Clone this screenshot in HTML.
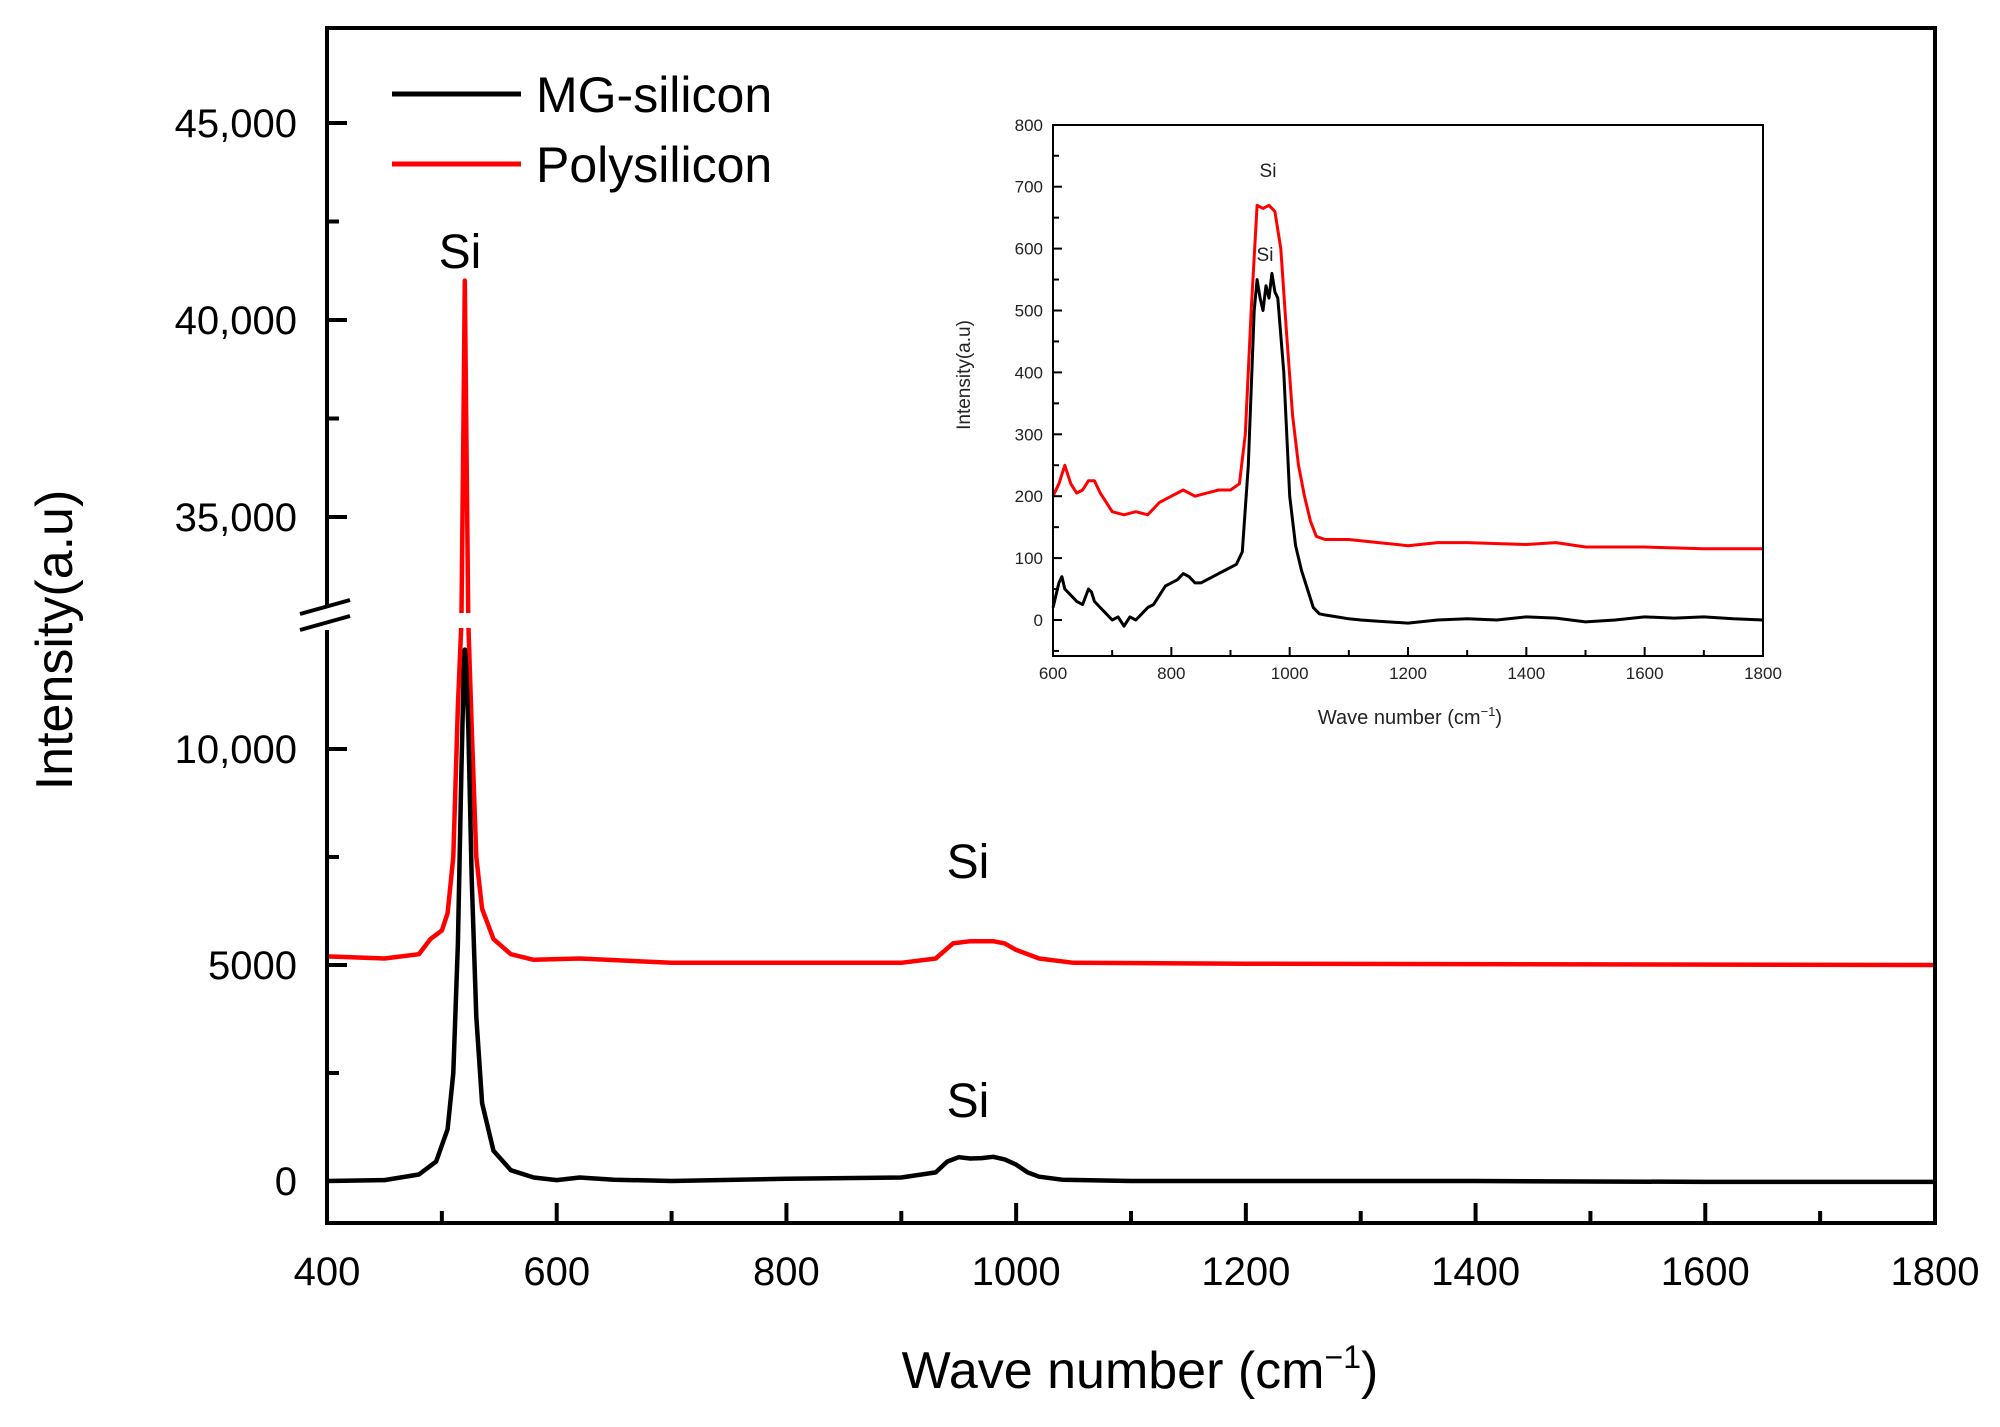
<!DOCTYPE html>
<html><head><meta charset="utf-8"><style>
body{margin:0;background:#fff}
svg text{font-family:"Liberation Sans",sans-serif}
</style></head><body>
<svg id="c" width="2000" height="1422" viewBox="0 0 2000 1422" xmlns="http://www.w3.org/2000/svg"></svg>
<script>
// main chart data
const mainXTicks=[400,600,800,1000,1200,1400,1600,1800];
const mainYTicksLow=[0,5000,10000];
const mainYLabelsLow=["0","5000","10,000"];
const mainYTicksHigh=[35000,40000,45000];
const mainYLabelsHigh=["35,000","40,000","45,000"];
const mgX=[400,450,480,495,505,510,514,517,519,520,521,523,526,530,535,545,560,580,600,620,650,700,800,900,930,940,950,960,970,980,990,1000,1010,1020,1040,1100,1200,1400,1600,1800];
const mgY=[0,20,150,450,1200,2500,5500,9500,11800,12300,12000,10500,7000,3800,1800,700,250,80,20,80,30,0,50,80,200,450,550,520,530,560,500,380,200,100,30,0,0,0,-20,-20];
const polyX=[400,450,480,490,500,505,510,514,517,519,520,521,523,526,530,535,545,560,580,620,700,900,930,945,960,980,990,1000,1020,1050,1200,1800];
const polyY=[5200,5150,5250,5600,5800,6200,7500,11000,20000,38000,41000,38000,20000,10500,7500,6300,5600,5250,5120,5150,5050,5050,5150,5500,5550,5550,5500,5350,5150,5050,5030,5000];
// inset data
const inXTicks=[600,800,1000,1200,1400,1600,1800];
const inYTicks=[0,100,200,300,400,500,600,700,800];
const inMgX=[600,610,615,620,630,640,650,660,665,670,680,690,700,710,720,730,740,750,760,770,780,790,800,810,820,830,840,850,860,870,880,890,900,910,920,930,940,945,950,955,960,965,970,975,980,990,1000,1010,1020,1030,1040,1050,1060,1080,1100,1120,1150,1200,1250,1300,1350,1400,1450,1500,1550,1600,1650,1700,1750,1800];
const inMgY=[20,60,70,50,40,30,25,50,45,30,20,10,0,5,-10,5,0,10,20,25,40,55,60,65,75,70,60,60,65,70,75,80,85,90,110,250,500,550,520,500,540,520,560,530,520,400,200,120,80,50,20,10,8,5,2,0,-2,-5,0,2,0,5,3,-3,0,5,3,5,2,0];
const inPolyX=[600,610,620,630,640,650,660,670,680,690,700,720,740,760,780,800,820,840,860,880,900,915,925,935,945,955,965,975,985,995,1005,1015,1025,1035,1045,1060,1100,1150,1200,1250,1300,1400,1450,1500,1600,1700,1800];
const inPolyY=[200,220,250,220,205,210,225,225,205,190,175,170,175,170,190,200,210,200,205,210,210,220,300,500,670,665,670,660,600,460,330,250,200,160,135,130,130,125,120,125,125,122,125,118,118,115,115];

const NS="http://www.w3.org/2000/svg";
const svg=document.getElementById('c');
function el(t,a,p){const e=document.createElementNS(NS,t);for(const k in a)e.setAttribute(k,a[k]);(p||svg).appendChild(e);return e;}

const L=327,R=1935,T=28,B=1223;
const X=v=>L+(v-400)*(R-L)/1400;
function Y(v){
  if(v<=12800) return 1181-v*0.0432;
  if(v>=32560) return 517-(v-35000)*0.0394;
  return 628-(v-12800)*(15/(32560-12800));
}
const gM=el('g',{});


function line(xs,ys,color,name,fx,fy,g,w){
  const d=xs.map((x,i)=>(i?'L':'M')+fx(x).toFixed(1)+' '+fy(ys[i]).toFixed(1)).join(' ');
  const p=el('path',{d:d,fill:'none',stroke:color,'stroke-width':w,'stroke-linejoin':'round'},g);
  
  
}
line(polyX,polyY,'#ff0000','polysilicon-line',X,Y,gM,4.5);
line(mgX,mgY,'#000000','mg-silicon-line',X,Y,gM,4.5);
el('rect',{x:440,y:613,width:50,height:15,fill:'#fff'},gM);
el('rect',{x:L,y:T,width:R-L,height:B-T,fill:'none',stroke:'#000','stroke-width':4},gM);
for(let v=500;v<=1700;v+=100){
  const maj=mainXTicks.includes(v);
  el('line',{x1:X(v),x2:X(v),y1:B,y2:B-(maj?20:12),stroke:'#000','stroke-width':4},gM);
}
mainXTicks.forEach(v=>{const t=el('text',{x:X(v),y:B+62,'font-size':40,'text-anchor':'middle'},gM);t.textContent=v;
});
[0,2500,5000,7500,10000,37500,42500,35000,40000,45000].forEach(v=>{
  const maj=v%5000===0;
  el('line',{x1:L,x2:L+(maj?20:12),y1:Y(v),y2:Y(v),stroke:'#000','stroke-width':4},gM);
});
mainYTicksLow.forEach((v,i)=>{const t=el('text',{x:L-30,y:Y(v)+14,'font-size':40,'text-anchor':'end'},gM);t.textContent=mainYLabelsLow[i];
});
mainYTicksHigh.forEach((v,i)=>{const t=el('text',{x:L-30,y:Y(v)+14,'font-size':40,'text-anchor':'end'},gM);t.textContent=mainYLabelsHigh[i];
});
el('rect',{x:L-4,y:608,width:8,height:22,fill:'#fff'},gM);
el('line',{x1:300,y1:614,x2:350,y2:600,stroke:'#000','stroke-width':4},gM);
el('line',{x1:300,y1:630,x2:350,y2:616,stroke:'#000','stroke-width':4},gM);
let t=el('text',{x:1140,y:1388,'font-size':52,'text-anchor':'middle'});

t.innerHTML='Wave number (cm<tspan dy="-20" font-size="32">−1</tspan><tspan dy="20">)</tspan>';
t=el('text',{x:0,y:0,'font-size':52,'text-anchor':'middle',transform:'translate(72,640) rotate(-90)'});
t.textContent='Intensity(a.u)';
el('line',{x1:392,x2:521,y1:94,y2:94,stroke:'#000','stroke-width':5});
el('line',{x1:392,x2:521,y1:164,y2:164,stroke:'#ff0000','stroke-width':5});
t=el('text',{x:536,y:112,'font-size':50});t.textContent='MG-silicon';

t=el('text',{x:536,y:182,'font-size':50});t.textContent='Polysilicon';

[[460,268],[968,878],[968,1117]].forEach(p=>{const s=el('text',{x:p[0],y:p[1],'font-size':48,'text-anchor':'middle'});s.textContent='Si';
});

const iL=1053,iR=1763,iT=125,iB=656;
const IX=v=>iL+(v-600)*(iR-iL)/1200;
const IY=v=>620-v*0.619;
const gI=el('g',{});


line(inPolyX,inPolyY,'#ff0000','inset-polysilicon-line',IX,IY,gI,3);
line(inMgX,inMgY,'#000000','inset-mg-silicon-line',IX,IY,gI,3);
el('rect',{x:iL,y:iT,width:iR-iL,height:iB-iT,fill:'none',stroke:'#000','stroke-width':2},gI);
for(let v=700;v<=1700;v+=100){el('line',{x1:IX(v),x2:IX(v),y1:iB,y2:iB-(v%200===0?9:6),stroke:'#000','stroke-width':2},gI);}
for(let v=-50;v<=750;v+=50){el('line',{x1:iL,x2:iL+(v%100===0?9:6),y1:IY(v),y2:IY(v),stroke:'#000','stroke-width':2},gI);}
inXTicks.forEach(v=>{const s=el('text',{x:IX(v),y:iB+23,'font-size':17,'text-anchor':'middle',fill:'#222'},gI);s.textContent=v;
});
inYTicks.forEach(v=>{const s=el('text',{x:iL-10,y:IY(v)+6,'font-size':17,'text-anchor':'end',fill:'#222'},gI);s.textContent=v;
});
t=el('text',{x:1410,y:724,'font-size':20,'text-anchor':'middle',fill:'#222'},gI);

t.innerHTML='Wave number (cm<tspan dy="-8" font-size="13">−1</tspan><tspan dy="8">)</tspan>';
t=el('text',{x:0,y:0,'font-size':19,'text-anchor':'middle',fill:'#222',transform:'translate(970,375) rotate(-90)'},gI);
t.textContent='Intensity(a.u)';
[[1268,177],[1265,261]].forEach(p=>{const s=el('text',{x:p[0],y:p[1],'font-size':19,'text-anchor':'middle',fill:'#222'},gI);s.textContent='Si';
});
</script>
</body></html>
